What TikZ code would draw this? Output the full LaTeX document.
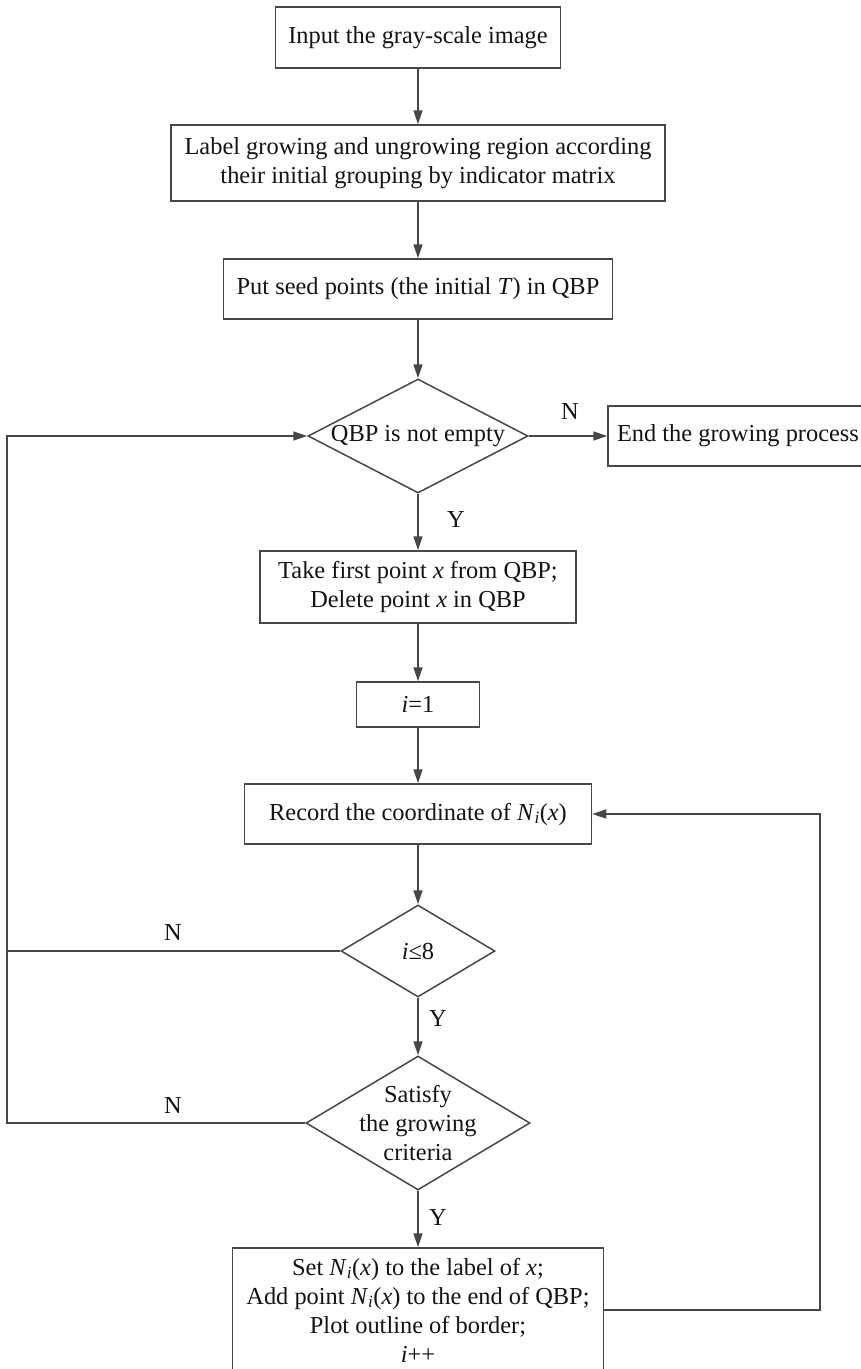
\documentclass[tikz,border=0pt]{standalone}
\usepackage{fontspec}
\setmainfont{Liberation Serif}
\usetikzlibrary{shapes.geometric,arrows.meta}
\begin{document}
\begin{tikzpicture}[x=1pt,y=-1pt,
  every node/.style={font=\fontsize{24.4}{29}\selectfont, text=black!92},
  line/.style={draw=black!72, line width=1.5pt},
  arr/.style={line, -{Triangle[length=14pt,width=9pt]}},
  boxnode/.style={draw=black!72, line width=1.5pt, rectangle, inner sep=0pt, align=center},
  dnode/.style={draw=black!72, line width=1.5pt, diamond, inner sep=0pt, align=center},
  lbl/.style={inner sep=0pt}]
\useasboundingbox (0,0) rectangle (861,1369);
\clip (0,0) rectangle (861,1369);
\fill[white] (0,0) rectangle (861,1369);

\node[boxnode, minimum width=285pt, minimum height=61pt] (b1) at (418,37.5) {Input the gray-scale image};
\node[boxnode, minimum width=494pt, minimum height=76pt] (b2) at (418,163) {Label growing and ungrowing region according\\their initial grouping by indicator matrix};
\node[boxnode, minimum width=389pt, minimum height=60pt] (b3) at (418,289) {Put seed points (the initial \textit{T}) in QBP};
\node[dnode, minimum width=220pt, minimum height=114pt, shape aspect=1.93] (d1) at (418,436) {QBP is not empty};
\node[boxnode, minimum width=260pt, minimum height=60pt] (end) at (738,436) {End the growing process};
\node[boxnode, minimum width=316pt, minimum height=72pt] (b4) at (418,587) {Take first point \textit{x} from QBP;\\Delete point \textit{x} in QBP};
\node[boxnode, minimum width=123pt, minimum height=45pt] (b5) at (418,704.5) {\textit{i}=1};
\node[boxnode, minimum width=347pt, minimum height=60pt] (b6) at (418,814) {Record the coordinate of \textit{N}\textsubscript{\textit{i}}(\textit{x})};
\node[dnode, minimum width=154pt, minimum height=92pt, shape aspect=1.67] (d2) at (418,951) {\textit{i}≤8};
\node[dnode, minimum width=224pt, minimum height=134pt, shape aspect=1.67, inner sep=-12pt] (d3) at (418,1123) {Satisfy\\the growing\\criteria};
\node[boxnode, minimum width=371pt, minimum height=124pt] (b7) at (418,1310) {Set \textit{N}\textsubscript{\textit{i}}(\textit{x}) to the label of \textit{x};\\Add point \textit{N}\textsubscript{\textit{i}}(\textit{x}) to the end of QBP;\\Plot outline of border;\\\textit{i}++};

\coordinate (L) at (7,0);
\coordinate (R) at (820,0);

\draw[arr] (b1.south) -- (b2.north);
\draw[arr] (b2.south) -- (b3.north);
\draw[arr] (b3.south) -- (d1.north);
\draw[arr] (d1.east) -- (end.west);
\draw[arr] (d1.south) -- (b4.north);
\draw[arr] (b4.south) -- (b5.north);
\draw[arr] (b5.south) -- (b6.north);
\draw[arr] (b6.south) -- (d2.north);
\draw[arr] (d2.south) -- (d3.north);
\draw[arr] (d3.south) -- (b7.north);
\draw[arr] (d2.west) -- (d2.west -| L) -- (d1.west -| L) -- (d1.west);
\draw[line] (d3.west) -- (d3.west -| L) -- (d2.west -| L);
\draw[arr] (b7.east) -- (b7.east -| R) -- (b6.east -| R) -- (b6.east);

\node[lbl] (nA) at (570,412) {N};
\node[lbl] (yA) at (456,520) {Y};
\node[lbl] (nB) at (173,932) {N};
\node[lbl] (yB) at (438,1018) {Y};
\node[lbl] (nC) at (173,1105) {N};
\node[lbl] (yC) at (438,1217) {Y};
\end{tikzpicture}
\end{document}
